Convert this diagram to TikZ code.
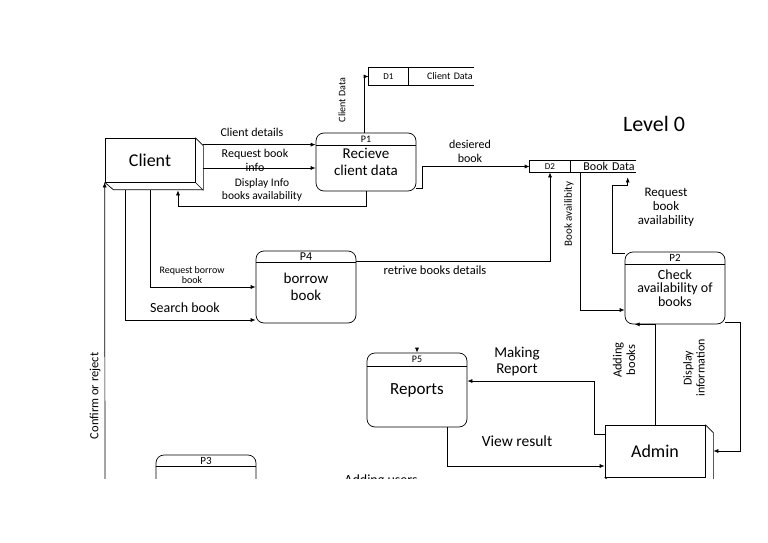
\documentclass[tikz,border=0pt]{standalone}
\usepackage{fontspec}
\setmainfont{Carlito}
\usetikzlibrary{arrows.meta}

\begin{document}
\begin{tikzpicture}[x=1pt,y=-1pt,line width=0.7pt,
    flow/.style={-{Latex[length=5pt,width=4pt]}},
    proc/.style={draw,rounded corners=8pt,minimum width=100pt,inner sep=0pt,align=center,font=\fontsize{15}{17}\selectfont},
    ent/.style={draw,minimum width=100pt,minimum height=52pt,font=\fontsize{18}{20}\selectfont},
    lbl/.style={align=center,inner sep=1pt,font=\fontsize{12}{14}\selectfont},
    pid/.style={inner sep=0pt,font=\fontsize{10}{11}\selectfont},
    cell/.style={inner sep=1pt,minimum height=11pt}]
  \useasboundingbox (0,0) rectangle (768,543);
  \begin{scope}
    \clip (0,0) rectangle (768,478);
    \node[ent,minimum width=90pt,minimum height=44pt] (client) at (150,160) {Client};
    \draw (client.north east) -- ++(8,8) -- ++(0,44) -- ++(-90,0) -- (client.south west);
    \draw (client.south east) -- ++(8,8);
    \node[proc,minimum height=58pt] (p1) at (366,162) {Recieve\\client data};
    \draw ([yshift=-13pt]p1.north west) -- ([yshift=-13pt]p1.north east);
    \node[pid] at ([yshift=-6.5pt]p1.north) {P1};
    \node[proc,minimum height=72pt] (p4) at (306,287) {borrow\\book};
    \draw ([yshift=-12pt]p4.north west) -- ([yshift=-12pt]p4.north east);
    \node[pid,font=\fontsize{12}{13}\selectfont] at ([yshift=-6pt]p4.north) {P4};
    \node[proc,minimum height=72pt,font=\fontsize{14}{13.5}\selectfont] (p2) at (675,288) {Check\\availability of\\books};
    \draw ([yshift=-13pt]p2.north west) -- ([yshift=-13pt]p2.north east);
    \node[pid,font=\fontsize{11}{12}\selectfont] at ([yshift=-6.5pt]p2.north) {P2};
    \node[proc,minimum height=74pt,font=\fontsize{17}{19}\selectfont] (p5) at (417,390) {Reports};
    \draw ([yshift=-14pt]p5.north west) -- ([yshift=-14pt]p5.north east);
    \node[pid] at ([yshift=-7pt]p5.north) {P5};
    \node[proc,minimum height=74pt] (p3) at (206,492) {};
    \draw ([yshift=-12pt]p3.north west) -- ([yshift=-12pt]p3.north east);
    \node[pid,font=\fontsize{11}{12}\selectfont] at ([yshift=-6pt]p3.north) {P3};
    \node[ent] (admin) at (655,451) {Admin};
    \draw (admin.north east) -- ++(8,8) -- ++(0,52) -- ++(-100,0) -- (admin.south west);
    \node[cell,minimum width=39pt,minimum height=17pt,font=\fontsize{9}{10}\selectfont] (d1) at (388.5,76.5) {D1};
    \node[cell,anchor=west,minimum height=17pt,text width=63pt,align=right,font=\fontsize{10}{11}\selectfont] (d1name) at (d1.east) {Client Data};
    \draw (d1name.north east) -- (d1.north west) -- (d1.south west) -- (d1name.south east);
    \draw (d1.north east) -- (d1.south east);
    \node[cell,minimum width=40pt,font=\fontsize{9}{10}\selectfont] (d2) at (550,166.5) {D2};
    \node[cell,anchor=west,text width=63pt,align=right,font=\fontsize{12}{13}\selectfont] (d2name) at (d2.east) {Book Data};
    \draw (d2name.north east) -- (d2.north west) -- (d2.south west) -- (d2name.south east);
    \draw (d2.north east) -- (d2.south east);
    \node[font=\fontsize{22}{24}\selectfont] (lvl) at (654,124) {Level 0};
    \draw[flow] ([xshift=-2pt]p1.north) |- (d1.west);
    \node[lbl,rotate=90,font=\fontsize{10}{11}\selectfont] at (342,100) {Client Data};
    \draw[flow] ([xshift=8pt,yshift=-7pt]client.north east) -- ([yshift=-12pt]p1.north west);
    \node[lbl] at (252,132) {Client details};
    \draw[flow] ([xshift=8pt,yshift=-8pt]client.east) -- ([yshift=-6pt]p1.west);
    \node[lbl] at (255,160) {Request book\\info};
    \draw[flow] (p1.south) -- ++(0,15) -| ([xshift=28pt,yshift=-8pt]client.south);
    \node[lbl,font=\fontsize{11.5}{12.5}\selectfont] at (262,190) {Display Info\\books availability};
    \draw[flow] ([yshift=-8pt]client.south) |- (p4.west);
    \node[lbl,font=\fontsize{10}{10}\selectfont] at (192,275) {Request borrow\\book};
    \draw[flow] ([xshift=-25pt,yshift=-8pt]client.south) |- ([yshift=-33pt]p4.west);
    \node[lbl,font=\fontsize{14}{15}\selectfont] at (185,308) {Search book};
    \coordinate (cr) at (105,490);
    \draw[flow] (cr) -- (client.south west);
    \node[lbl,rotate=90,font=\fontsize{12.5}{14}\selectfont] at (95,396) {Confirm or reject};
    \draw[flow] ([yshift=-11pt]p4.north east) -| (d2.south);
    \node[lbl,font=\fontsize{12.5}{14}\selectfont] at (435,270) {retrive books details};
    \draw[flow] ([yshift=3pt]p1.south east) -- ++(6,0) |- (d2.west);
    \node[lbl] at (470,151) {desiered\\book};
    \draw[flow] ([xshift=10pt]d2.south east) |- ([yshift=-22pt]p2.west);
    \node[lbl,rotate=90,font=\fontsize{11}{12}\selectfont] at (569,214) {Book availibity};
    \draw[flow] ([yshift=-2pt]p2.north west) -- ++(-12,0) |- ([xshift=24.5pt,yshift=-13pt]d2name.south) -- ([xshift=24.5pt,yshift=-5pt]d2name.south);
    \node[lbl,font=\fontsize{13}{14}\selectfont] at (666,207) {Request\\book\\availability};
    \draw[flow] (admin.north) |- ([xshift=10pt]p2.south west);
    \node[lbl,rotate=90,font=\fontsize{12.5}{13.5}\selectfont] at (624,360) {Adding\\books};
    \draw[flow] ([yshift=2pt]p2.south east) -- ++(15,0) |- ([xshift=8pt]admin.east);
    \node[lbl,rotate=90,font=\fontsize{12}{13}\selectfont] at (694,368) {Display\\information};
    \draw[flow] ([yshift=-10pt]admin.north west) -- ++(-10,0) |- ([yshift=9pt]p5.east);
    \node[lbl,font=\fontsize{15}{16}\selectfont] at (517,361) {Making\\Report};
    \draw[flow] ([xshift=30pt]p5.south) |- ([yshift=-15pt]admin.west);
    \node[lbl,font=\fontsize{15.5}{17}\selectfont] at (517,441) {View result};
    \draw[flow] ([yshift=5pt]p5.north) -- (p5.north);
    \node[lbl,font=\fontsize{14}{15}\selectfont] at (381,481) {Adding users};
  \end{scope}
\end{tikzpicture}
\end{document}
